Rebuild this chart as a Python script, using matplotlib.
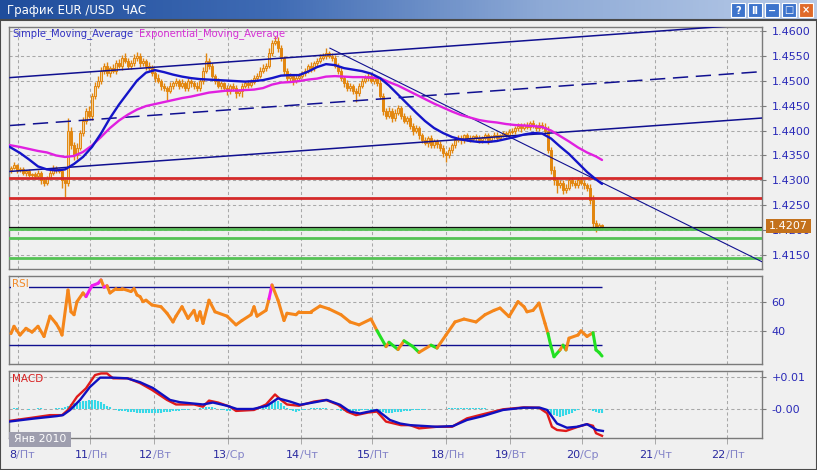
import matplotlib
matplotlib.use('Agg')
import matplotlib.pyplot as plt
import numpy as np
from matplotlib.collections import LineCollection
from matplotlib.patches import Rectangle
from matplotlib.colors import LinearSegmentedColormap
import matplotlib.transforms as mtransforms

plt.rcParams['font.family'] = ['DejaVu Sans']

# ---------------- DATA ----------------
# hourly closes, in pips above 1.4000 (bar i = hour i)
closes = [325, 330, 320, 322,
          315, 318, 310, 312, 308, 315,
          300, 295, 305,
          315, 325, 320, 318,
          300, 295,
          400, 370, 350, 365, 395,
          420, 440, 430,
          470, 490, 500,
          520, 530, 515,
          525, 520, 535, 530, 545, 540, 530, 535,
          545, 550, 535, 540, 530, 525,
          515, 505, 500, 490, 485, 480, 490,
          495, 500, 490, 495, 485, 500, 495, 490, 485,
          500, 520, 540, 530, 510,
          500, 490, 495, 485, 480, 490, 485, 475, 480,
          490, 495, 492, 498,
          505, 510, 520, 525, 530,
          555, 575, 580, 565, 545, 520,
          505, 510, 500, 505, 510,
          515, 520, 530, 525, 535, 540, 545, 550, 555, 550, 545,
          530, 520, 505, 495, 485, 490, 480, 475,
          490, 500, 505, 510, 500, 505, 495,
          470, 440, 430,
          440, 425, 435, 445, 430, 420, 425,
          410, 400, 405, 390,
          380, 375, 385, 370, 378, 372, 365, 355, 350, 360,
          370, 380, 385, 380, 390, 385, 382, 388, 385, 380,
          385, 390, 380, 388, 392, 385, 390, 395, 392, 398,
          400, 405, 410, 405, 412, 408, 415, 410, 405, 412, 408, 400,
          360, 320, 300, 290,
          295, 280, 285, 300, 295, 290, 300, 295, 290, 285,
          260, 215, 205, 210, 207]
first_open = 320
wick_up = [4, 6, 3, 5, 4, 3, 5, 2, 4, 6, 3, 5, 4, 7, 5, 3, 4,
           5, 3,
           25, 8, 6, 10, 7,
           8, 5, 9,
           6, 8, 10,
           7, 6, 8,
           5, 9, 6, 8, 7, 10, 5, 6,
           8, 8, 5, 6, 4, 7,
           6, 5, 8, 4, 6, 5, 7,
           5, 6, 4, 8, 5, 6, 4, 5, 7,
           6, 8, 15, 6, 5,
           4, 6, 5, 3, 7, 4, 5, 6, 4,
           5, 4, 6, 5,
           6, 5, 7, 8, 6,
           10, 6, 10, 8, 6, 5,
           6, 5, 4, 7, 5,
           5, 6, 4, 7, 5, 6, 8, 6, 10, 5, 6,
           6, 5, 7, 4, 6, 5, 4, 6,
           5, 6, 7, 5, 6, 4, 5,
           8, 6, 5,
           7, 5, 8, 6, 4, 6, 5,
           6, 5, 7, 4,
           5, 6, 4, 7, 5, 4, 6, 5, 4, 6,
           5, 4, 6, 5, 4, 6, 5, 4, 5, 6,
           4, 5, 6, 4, 5, 6, 4, 5, 4, 6,
           5, 4, 6, 5, 4, 6, 5, 7, 4, 5, 6, 8,
           10, 6, 8, 5,
           6, 5, 8, 4, 6, 5, 7, 4, 6, 5,
           8, 10, 6, 4, 3]
wick_dn = [5, 3, 6, 4, 5, 7, 3, 6, 5, 4, 8, 6, 4, 3, 5, 6, 4,
           15, 28,
           6, 8, 10, 7, 5,
           6, 7, 5,
           8, 6, 5,
           6, 7, 5,
           7, 5, 6, 4, 8, 5, 6, 7,
           5, 6, 7, 5, 8, 6,
           6, 7, 5, 8, 6, 19, 5,
           6, 5, 7, 4, 6, 5, 8, 6, 5,
           5, 6, 4, 7, 5,
           6, 5, 7, 4, 8, 6, 5, 10, 6,
           12, 5, 6, 4,
           5, 6, 4, 5, 6,
           5, 6, 4, 7, 6, 8,
           6, 5, 8, 4, 6,
           5, 6, 4, 7, 5, 6, 5, 4, 6, 5, 6,
           5, 7, 6, 8, 5, 6, 7, 18,
           6, 5, 4, 6, 5, 7, 6,
           6, 8, 7,
           5, 8, 6, 4, 7, 5, 6,
           6, 8, 5, 7,
           6, 5, 8, 6, 5, 7, 6, 8, 13, 6,
           5, 6, 4, 7, 5, 6, 5, 4, 6, 5,
           6, 5, 7, 4, 5, 6, 5, 4, 6, 5,
           4, 6, 5, 7, 4, 5, 6, 4, 5, 6, 4, 5,
           6, 8, 10, 15,
           5, 8, 6, 4, 7, 5, 6, 5, 7, 6,
           8, 12, 8, 5, 4]

# moving averages (pips above 1.4000), sampled every 3 hours
ma_hours = [-0.7] + list(range(3, 196, 3)) + [197]
sma = [368, 355, 342, 328, 322, 320, 322, 333, 347, 367, 394, 425, 452, 476, 500, 516,
       521, 517, 512, 508, 505, 503, 502, 501, 500, 499, 498, 499, 501, 505, 510, 511,
       511, 518, 527, 533, 531, 525, 522, 519, 514, 505, 490, 472, 454, 436, 419, 405,
       395, 387, 382, 379, 377, 377, 379, 383, 387, 392, 395, 394, 384, 368, 353, 335,
       317, 302, 293]
ema = [371, 367, 363, 359, 356, 350, 347, 349, 357, 370, 387, 405, 420, 432, 442, 449,
       453, 457, 461, 465, 468, 472, 476, 478, 480, 480, 481, 482, 485, 492, 496, 497,
       499, 502, 504, 508, 509, 508, 507, 507, 506, 505, 497, 490, 481, 472, 463, 454,
       446, 438, 431, 426, 421, 418, 416, 413, 411, 410, 409, 407, 400, 389, 378, 366,
       356, 348, 341]

# channel, trend line and levels
channel_hours = [-0.33, 250.33]
channel_upper = [1.4506, 1.4614]
channel_mid = [1.4410, 1.4518]
channel_lower = [1.4318, 1.4425]
trend_hours = [106.3, 250.33]
trend_prices = [1.4565, 1.4137]
red_levels = [1.4305, 1.4265]
green_levels = [1.4203, 1.4185, 1.4145]
last_price = 1.4207

# RSI
rsi_hours = [0, 1, 3, 5, 7, 9, 11, 13, 15, 16, 17, 19, 20, 21, 22, 24, 25, 27, 29, 30,
             31, 32, 33, 35, 37, 40, 41, 42, 43, 44, 45, 47, 50, 52, 54, 55, 57, 59, 61,
             62, 63, 64, 66, 68, 72, 75, 77, 80, 81, 82, 85, 86, 87, 89, 91, 92, 95, 96,
             100, 103, 106, 110, 113, 116, 120, 122, 125, 126, 129, 131, 134, 136, 140,
             142, 145, 148, 151, 155, 158, 161, 163, 166, 169, 171, 172, 174, 176, 178,
             179, 180, 181, 183, 184, 185, 186, 189, 190, 192, 194, 195, 196, 197]
rsi = [38, 43, 37, 41.6, 39, 43, 36, 50, 45, 41.6, 37, 68, 53, 51, 60, 66, 63.5, 71, 72.6,
       75, 70, 71, 66, 69, 69, 67, 69, 64.6, 63.5, 60, 61, 57.7, 56.5, 52, 46, 50, 56.5,
       48.5, 54, 47, 53, 45, 61, 53, 50, 44, 47, 51, 56.5, 50, 54, 62, 71.5, 61, 47, 52,
       51, 53, 53, 57, 55, 51, 46, 44, 48, 40, 29, 32, 27, 33, 29, 25, 30, 28, 37, 46,
       48, 46, 51, 54, 55.6, 49.7, 60, 56.5, 53, 54, 59, 45, 38, 29, 22, 26.7, 30, 26.7,
       34.8, 37, 39.8, 36, 38.6, 26.7, 25, 22.5]
rsi_levels = [30, 70]

# MACD (units of 0.001)
macd_hours = [-0.7, 7, 13, 17, 19, 22, 25, 28, 30, 32, 34, 39, 43, 47, 52, 55, 61, 64,
              66, 69, 73, 75, 81, 85, 88, 90, 92, 96, 101, 105, 109, 112, 115, 119, 122,
              125, 130, 133, 136, 142, 147, 152, 157, 164, 171, 176, 178.7, 180.3, 182,
              185, 189, 192, 194, 195, 197]
macd = [-3.7, -2.7, -1.9, -1.9, -0.3, 3.8, 6.4, 10.5, 11, 11, 9.5, 9.5, 8, 5.9, 2.8,
        1.4, 1.4, 0.7, 2.6, 2, 0.7, -0.6, -0.3, 1.4, 4.5, 2.8, 1.4, 1, 2.3, 2.8, 1.3,
        -0.8, -1.9, -1.1, -0.8, -3.9, -5, -5, -6, -5.5, -5.5, -2.9, -1.7, -0.1, 0.5, 0.4,
        -1.3, -5.5, -6.5, -6.8, -5.5, -4.7, -5.2, -7.5, -8.3]
signal_hours = [-0.7, 7.3, 15.3, 17.3, 19.7, 23, 26.3, 29.7, 34, 38.7, 43, 47.3, 53,
                56.3, 60.7, 64, 67.3, 72, 75.3, 80.7, 85.3, 89, 93, 96.3, 100.7, 105.3,
                109.7, 113, 116.3, 122, 126.3, 129.7, 133, 142, 147.3, 152, 157.3, 164,
                170.7, 176.3, 178.7, 182, 185.3, 188.7, 192, 195.3, 197.3]
signal = [-3.9, -3, -2.2, -1.9, -0.3, 2.8, 6.8, 9.7, 9.7, 9.5, 8.3, 6.5, 2.8, 2.1, 1.7,
          1.4, 2, 1, 0, 0, 1, 3.3, 2.3, 1.3, 2, 2.8, 1.3, -0.8, -1.4, -0.3, -3.4, -4.5,
          -5, -5.5, -5.3, -3.4, -2.2, -0.3, 0.4, 0.4, -0.3, -4.5, -5.8, -5.5, -4.7, -6.5,
          -6.8]
# histogram, one per hour (units of 0.0001)
hist = [1, 2, 2, 1, 0, -1, -2, -1, 1, 2, 2, 1, 0, -1, 1, 2, 2,
        3, 6, 10, 14, 17, 20, 22, 24, 26, 27, 28, 27, 25, 21, 16, 10, 5,
        -1, -3, -5, -6, -7, -8, -9, -10, -11, -12, -12, -13, -13, -13, -12, -12, -11,
        -10, -9, -8, -7, -6, -5,
        -4, -3, -2, -1, 0, 1, 2,
        4, 6, 7, 5, 3,
        0, -2, -4, -5, -5, -4, -3, -2,
        -1, 0, 1, 2, 2, 3, 4, 6,
        10, 16, 22, 26, 24, 18, 10,
        2, -4, -7, -8, -6, -4, -2,
        0, 2, 3, 4, 4, 3, 2, 1, 0, -1,
        -3, -5, -7, -8, -8, -7, -6, -5, -4, -3, -2,
        -3, -4, -6, -8, -10, -11, -12, -11, -10, -9, -8, -7, -6, -5, -4, -3,
        -3, -2, -2, -1, -1, 0, 0, 1, 1, 1,
        2, 2, 3, 3, 3, 4, 4, 4, 3, 3, 2, 2, 2, 1, 1, 1, 1, 0,
        1, 1, 1, 2, 2, 2, 2, 2, 1, 1, 1, 0, 0, 0,
        -3, -8, -15, -20, -23, -24, -22, -19, -15, -11, -7, -3,
        0, 1, 1, 0,
        -5, -10, -13, -12]

day_hours = [2.33, 26.33, 47.67, 72.33, 96.67, 120.33, 145, 166.33, 190.33, 214.67, 238.67]
day_nums = ['8', '11', '12', '13', '14', '15', '18', '19', '20', '21', '22']
day_names = ['Пт', 'Пн', 'Вт', 'Ср', 'Чт', 'Пт', 'Пн', 'Вт', 'Ср', 'Чт', 'Пт']
price_ticks = [1.4150, 1.4200, 1.4250, 1.4300, 1.4350, 1.4400, 1.4450, 1.4500, 1.4550, 1.4600]

assert len(closes) == len(wick_up) == len(wick_dn) == len(hist) == 198
assert len(ma_hours) == len(sma) == len(ema)
assert len(rsi_hours) == len(rsi)
assert len(macd_hours) == len(macd) and len(signal_hours) == len(signal)

# ---------------- FIGURE ----------------
W, H = 817, 470
fig = plt.figure(figsize=(W / 100, H / 100), dpi=100)
BG = '#f0f0f0'
fig.patch.set_facecolor(BG)


def rect(x0, y0, x1, y1):
    return [x0 / W, 1 - y1 / H, (x1 - x0) / W, (y1 - y0) / H]


ax = fig.add_axes(rect(9, 27, 762, 269))
ax_r = fig.add_axes(rect(9, 276, 762, 364))
ax_m = fig.add_axes(rect(9, 371, 762, 438))

XL = (-0.67, 250.33)
TICKCOL = '#2a2ab8'
GRIDKW = dict(color='#a8a8a8', lw=0.75, ls=(0, (3, 2.5)))
for a in (ax, ax_r, ax_m):
    a.set_facecolor(BG)
    a.set_xlim(*XL)
    for s in a.spines.values():
        s.set_color('#7a7a7a')
        s.set_linewidth(1.0)
    a.yaxis.tick_right()
    a.tick_params(axis='y', direction='out', length=3, width=0.8, color='#7a7a7a',
                  labelcolor=TICKCOL, labelsize=8, pad=4)
    a.set_xticks(day_hours)
    a.tick_params(axis='x', length=0, labelbottom=False)
    a.grid(True, **GRIDKW)
    a.set_axisbelow(True)
ax_m.tick_params(axis='x', length=4, width=0.7, color='#a8a8a8', direction='out')

# ---- main price panel ----
o = np.array([first_open] + closes[:-1], dtype=float)
c = np.array(closes, dtype=float)
hi = np.maximum(o, c) + np.array(wick_up)
lo = np.minimum(o, c) - np.array(wick_dn)
hrs = np.arange(len(c))
P = lambda v: 1.4 + np.asarray(v, dtype=float) / 10000.0

ORANGE = '#e2860f'
ax.vlines(hrs, P(lo), P(hi), color=ORANGE, lw=1.0, zorder=3)
body_b = P(np.minimum(o, c))
body_h = np.maximum(P(np.maximum(o, c)) - body_b, 0.00004)
up = c >= o
ax.bar(hrs[up], body_h[up], bottom=body_b[up], width=0.78, color='#f3cf96',
       edgecolor=ORANGE, linewidth=0.7, zorder=4)
ax.bar(hrs[~up], body_h[~up], bottom=body_b[~up], width=0.78, color=ORANGE,
       edgecolor=ORANGE, linewidth=0.7, zorder=4)

for lv in red_levels:
    ax.axhline(lv, color='#d42a2a', lw=2.0, zorder=5)
for lv in green_levels:
    ax.axhline(lv, color='#55c255', lw=2.0, zorder=5)
ax.axhline(last_price, color='#101010', lw=0.9, zorder=5)

NAVY = '#101090'
ax.plot(channel_hours, channel_upper, color=NAVY, lw=1.1, zorder=6)
ax.plot(channel_hours, channel_lower, color=NAVY, lw=1.1, zorder=6)
ax.plot(channel_hours, channel_mid, color=NAVY, lw=1.1, ls=(0, (10, 5)), zorder=6)
ax.plot(trend_hours, trend_prices, color=NAVY, lw=0.8, zorder=6)

ax.plot(ma_hours, P(ema), color='#e020e0', lw=1.7, zorder=7, solid_capstyle='round')
ax.plot(ma_hours, P(sma), color='#1414c8', lw=1.7, zorder=8, solid_capstyle='round')

ax.set_ylim(1.41225, 1.46074)
ax.set_yticks(price_ticks)
ax.set_yticklabels(['%.4f' % t for t in price_ticks])

ax.text(3 / 753, 1 - 7 / 242, 'Simple_Moving_Average', transform=ax.transAxes,
        color='#3434c4', fontsize=7.2, va='center', ha='left', zorder=10)
ax.text(130 / 753, 1 - 7 / 242, 'Exponential_Moving_Average', transform=ax.transAxes,
        color='#d630d6', fontsize=7.2, va='center', ha='left', zorder=10)

# ---- RSI panel ----
ax_r.set_ylim(17, 77.7)
ax_r.set_yticks([40, 60])
ax_r.set_yticklabels(['40', '60'])
ax_r.hlines(rsi_levels, XL[0], rsi_hours[-1], color=NAVY, lw=1.0, zorder=3)
pts = np.column_stack([rsi_hours, rsi])
segs = np.stack([pts[:-1], pts[1:]], axis=1)
cols = []
for v in rsi[1:]:
    if v > 70:
        cols.append('#f01cf0')
    elif v < 30:
        cols.append('#22e022')
    else:
        cols.append('#f5861a')
ax_r.add_collection(LineCollection(segs, colors=cols, linewidths=2.2, zorder=4,
                                   capstyle='round', joinstyle='round'))
ax_r.text(3 / 753, 1 - 8 / 88, 'RSI', transform=ax_r.transAxes, color='#f08a2a',
          fontsize=7.5, va='center', ha='left', zorder=10,
          bbox=dict(facecolor=BG, edgecolor='none', pad=0.5))

# ---- MACD panel ----
ax_m.set_ylim(-0.00898, 0.01176)
ax_m.set_yticks([0.0, 0.01])
ax_m.set_yticklabels(['-0.00', '+0.01'])
hv = np.array(hist) / 10000.0
ax_m.vlines(hrs, 0, hv, color='#35d8e8', lw=1.5, zorder=3)
ax_m.plot(macd_hours, np.array(macd) / 1000.0, color='#e01a1a', lw=1.7, zorder=4)
ax_m.plot(signal_hours, np.array(signal) / 1000.0, color='#1010c0', lw=1.7, zorder=5)
ax_m.text(3 / 753, 1 - 8 / 67, 'MACD', transform=ax_m.transAxes, color='#d82020',
          fontsize=7.5, va='center', ha='left', zorder=10)

# ---- day labels ----
base = mtransforms.blended_transform_factory(ax_m.transData, fig.transFigure)
shift = mtransforms.ScaledTranslation(-1.5 / 100, 0, fig.dpi_scale_trans)
for dh, dn, nm in zip(day_hours, day_nums, day_names):
    fig.text(dh, 1 - 455 / H, dn, transform=base + shift, ha='right', va='center',
             color='#2a2aa0', fontsize=8)
    fig.text(dh, 1 - 455 / H, '/' + nm, transform=base + shift, ha='left', va='center',
             color='#8484c8', fontsize=8)

# month box
fig.add_artist(Rectangle((9 / W, 1 - 447 / H), 62 / W, 15 / H, transform=fig.transFigure,
                         facecolor='#9e9eae', edgecolor='none', zorder=5))
fig.text(40 / W, 1 - 439.5 / H, 'Янв 2010', color='white', fontsize=7.8, ha='center',
         va='center', zorder=6)

# last price box
fig.add_artist(Rectangle((766 / W, 1 - 233 / H), 45 / W, 14 / H, transform=fig.transFigure,
                         facecolor='#c3711c', edgecolor='none', zorder=5))
fig.text(788.5 / W, 1 - 226 / H, '1.4207', color='white', fontsize=8, ha='center',
         va='center', zorder=6)

# ---- title bar ----
tb = fig.add_axes([0, 1 - 20 / H, 1, 20 / H])
tb.set_axis_off()
cmap = LinearSegmentedColormap.from_list('tb', ['#1f4d9c', '#3f6bb4', '#8eaad6', '#b8cbe8'])
grad = np.linspace(0, 1, 256).reshape(1, -1)
tb.imshow(grad, aspect='auto', cmap=cmap, extent=[0, W, 20, 0])
tb.set_xlim(0, W)
tb.set_ylim(20, 0)
tb.text(7, 10.5, 'График EUR /USD  ЧАС', color='white', fontsize=8.5, va='center', ha='left')
btn_x = [738, 755, 772, 789, 806]
btn_sym = ['?', 'II', '−', '□', '×']
for i, (bx, sym) in enumerate(zip(btn_x, btn_sym)):
    fc = '#e06a2a' if i == 4 else '#3d74cc'
    tb.add_patch(Rectangle((bx - 7, 3), 14, 14, facecolor=fc, edgecolor='white', lw=0.8))
    tb.text(bx, 10.5, sym, color='white', fontsize=7, ha='center', va='center',
            fontweight='bold')

# window frame
fig.add_artist(Rectangle((0, 0), 1, 1 - 20 / H, transform=fig.transFigure, fill=False,
                         edgecolor='#4a4a4a', lw=1.5, zorder=10))

fig.savefig('out.png', dpi=100, facecolor=fig.get_facecolor())
